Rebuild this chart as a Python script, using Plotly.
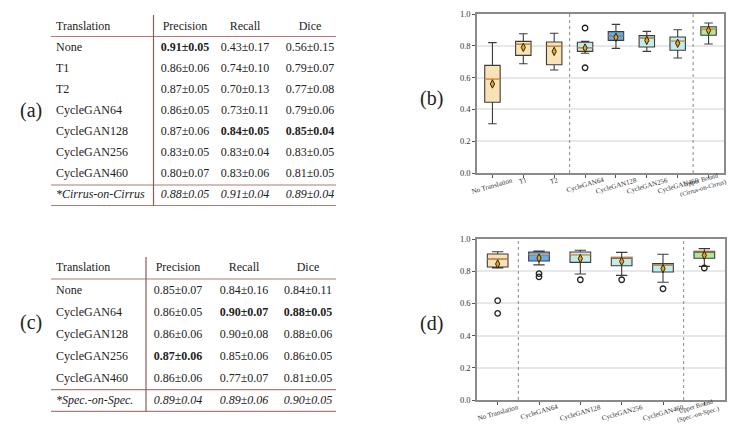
import plotly.graph_objects as go

W, H = 735, 425

# ---- table (a): Cirrus ----
a_header = ["Translation", "Precision", "Recall", "Dice"]
a_rows = ["None", "T1", "T2", "CycleGAN64", "CycleGAN128", "CycleGAN256", "CycleGAN460", "*Cirrus-on-Cirrus"]
a_precision = ["0.91±0.05", "0.86±0.06", "0.87±0.05", "0.86±0.05", "0.87±0.06", "0.83±0.05", "0.80±0.07", "0.88±0.05"]
a_recall = ["0.43±0.17", "0.74±0.10", "0.70±0.13", "0.73±0.11", "0.84±0.05", "0.83±0.04", "0.83±0.06", "0.91±0.04"]
a_dice = ["0.56±0.15", "0.79±0.07", "0.77±0.08", "0.79±0.06", "0.85±0.04", "0.83±0.05", "0.81±0.05", "0.89±0.04"]
a_best = {"Precision": 0, "Recall": 4, "Dice": 4}

# ---- table (c): Spectralis ----
c_header = ["Translation", "Precision", "Recall", "Dice"]
c_rows = ["None", "CycleGAN64", "CycleGAN128", "CycleGAN256", "CycleGAN460", "*Spec.-on-Spec."]
c_precision = ["0.85±0.07", "0.86±0.05", "0.86±0.06", "0.87±0.06", "0.86±0.06", "0.89±0.04"]
c_recall = ["0.84±0.16", "0.90±0.07", "0.90±0.08", "0.85±0.06", "0.77±0.07", "0.89±0.06"]
c_dice = ["0.84±0.11", "0.88±0.05", "0.88±0.06", "0.86±0.05", "0.81±0.05", "0.90±0.05"]
c_best = {"Precision": 3, "Recall": 1, "Dice": 1}

# ---- box plot (b) ----
b_cats = ["No Translation", "T1", "T2", "CycleGAN64", "CycleGAN128", "CycleGAN256",
          "CycleGAN460", "Upper Bound<br>(Cirrus-on-Cirrus)"]
b_low = [0.31, 0.687, 0.648, 0.753, 0.784, 0.765, 0.723, 0.811]
b_q1 = [0.445, 0.740, 0.681, 0.765, 0.834, 0.792, 0.772, 0.866]
b_med = [0.589, 0.810, 0.797, 0.788, 0.862, 0.849, 0.828, 0.908]
b_q3 = [0.677, 0.828, 0.824, 0.822, 0.889, 0.864, 0.855, 0.920]
b_high = [0.820, 0.876, 0.879, 0.828, 0.935, 0.891, 0.901, 0.943]
b_mean = [0.560, 0.790, 0.765, 0.786, 0.853, 0.834, 0.816, 0.897]
b_out_idx = [3, 3]
b_out_val = [0.912, 0.662]
b_kind = ["base", "base", "base", "gan", "best", "gan", "gan", "upper"]

# ---- box plot (d) ----
d_cats = ["No Translation", "CycleGAN64", "CycleGAN128", "CycleGAN256", "CycleGAN460",
          "Upper Bound<br>(Spec.-on-Spec.)"]
d_low = [0.820, 0.839, 0.783, 0.774, 0.731, 0.830]
d_q1 = [0.826, 0.863, 0.855, 0.834, 0.795, 0.880]
d_med = [0.876, 0.903, 0.903, 0.883, 0.837, 0.919]
d_q3 = [0.907, 0.919, 0.919, 0.886, 0.847, 0.923]
d_high = [0.921, 0.925, 0.930, 0.917, 0.905, 0.940]
d_mean = [0.845, 0.882, 0.878, 0.861, 0.816, 0.899]
d_out_idx = [0, 0, 1, 1, 2, 3, 4, 5]
d_out_val = [0.617, 0.538, 0.785, 0.765, 0.747, 0.747, 0.691, 0.820]
d_kind = ["base", "best", "gan", "gan", "gan", "upper"]

FILL = {"base": "#f9e2b5", "gan": "#c2ecec", "best": "#5fb0f2", "upper": "#aee79c"}
SERIF = "Liberation Serif, Times New Roman, serif"
RULE = "#b07a7a"
TXT = "#222"

fig = go.Figure()


def px_x(p):
    return p / W


def px_y(p):
    return 1 - p / H


def add_boxes(xa, ya, cats, low, q1, med, q3, high, mean, kind, out_idx, out_val):
    for i in range(len(med)):
        fig.add_trace(go.Box(
            x=[i], q1=[q1[i]], median=[med[i]], q3=[q3[i]],
            lowerfence=[low[i]], upperfence=[high[i]],
            width=0.5, whiskerwidth=0.55, fillcolor=FILL[kind[i]],
            line=dict(color="#3c3c3c", width=1.1), boxpoints=False,
            xaxis=xa, yaxis=ya, showlegend=False, hoverinfo="skip"))
        # orange median line
        fig.add_trace(go.Box(
            x=[i], q1=[med[i]], median=[med[i]], q3=[med[i]],
            lowerfence=[med[i]], upperfence=[med[i]],
            width=0.5, whiskerwidth=0, fillcolor="rgba(0,0,0,0)",
            line=dict(color="#f0953a", width=1.1), boxpoints=False,
            xaxis=xa, yaxis=ya, showlegend=False, hoverinfo="skip"))
    fig.add_trace(go.Scatter(
        x=list(range(len(mean))), y=mean, mode="markers", xaxis=xa, yaxis=ya,
        marker=dict(symbol="diamond-tall", size=6, color="#f5a400",
                    line=dict(color="#222", width=1)),
        showlegend=False, hoverinfo="skip"))
    fig.add_trace(go.Scatter(
        x=out_idx, y=out_val, mode="markers", xaxis=xa, yaxis=ya,
        marker=dict(symbol="circle-open", size=5.5, color="#222", line=dict(width=1.3)),
        showlegend=False, hoverinfo="skip"))
    # rotated category labels, centred under their ticks
    for i, c in enumerate(cats):
        two_lines = "<br>" in c
        fig.add_annotation(text=c, x=i, y=0, xref=xa, yref=ya + " domain",
                           xanchor="center", yanchor="top",
                           yshift=5 if two_lines else -2, xshift=-7 if two_lines else 0,
                           textangle=-16, showarrow=False, align="center", borderpad=0,
                           font=dict(family=SERIF, size=6.5 if two_lines else 7, color="#333"))


add_boxes("x", "y", b_cats, b_low, b_q1, b_med, b_q3, b_high, b_mean, b_kind, b_out_idx, b_out_val)
add_boxes("x2", "y2", d_cats, d_low, d_q1, d_med, d_q3, d_high, d_mean, d_kind, d_out_idx, d_out_val)


def add_text(xs, ys, texts, pos):
    fig.add_trace(go.Scatter(
        x=xs, y=ys, text=texts, mode="text", textposition=pos,
        textfont=dict(family=SERIF, size=12, color=TXT),
        xaxis="x3", yaxis="y3", showlegend=False, hoverinfo="skip"))


def add_table(header, rows, cols, best, left_x, centers, header_y, row0_y, step):
    ys = [row0_y + i * step for i in range(len(rows))]
    last = len(rows) - 1
    add_text([left_x], [header_y], header[:1], "middle right")
    add_text(centers, [header_y] * 3, header[1:], "middle center")
    labels = [r if i < last else "<i>%s</i>" % r for i, r in enumerate(rows)]
    add_text([left_x] * len(rows), ys, labels, "middle right")
    for name, vals, cx in zip(header[1:], cols, centers):
        txt = []
        for i, v in enumerate(vals):
            if i == last:
                txt.append("<i>%s</i>" % v)
            elif i == best[name]:
                txt.append("<b>%s</b>" % v)
            else:
                txt.append(v)
        add_text([cx] * len(vals), ys, txt, "middle center")


# table layout (pixel space of the overlay axis)
add_table(a_header, a_rows, [a_precision, a_recall, a_dice], a_best,
          48, [177, 237, 302], 18.5, 39.5, 21)
add_table(c_header, c_rows, [c_precision, c_recall, c_dice], c_best,
          48, [170, 236, 300], 260, 282.7, 22)

shapes = []
for y in (28.5, 177, 197.5):
    shapes.append(dict(type="line", xref="x3", yref="y3", x0=43, x1=328, y0=y, y1=y,
                       line=dict(color=RULE, width=1.2)))
shapes.append(dict(type="line", xref="x3", yref="y3", x0=145.5, x1=145.5, y0=7, y1=197.5,
                   line=dict(color="#8c5a5a", width=1.2)))
for y in (271, 381.7, 403.3):
    shapes.append(dict(type="line", xref="x3", yref="y3", x0=43, x1=328, y0=y, y1=y,
                       line=dict(color=RULE, width=1.2)))
shapes.append(dict(type="line", xref="x3", yref="y3", x0=138, x1=138, y0=249, y1=403.3,
                   line=dict(color="#8c5a5a", width=1.2)))
# dotted group separators
for xa, xv in (("x", 2.5), ("x", 6.5), ("x2", 0.5), ("x2", 4.5)):
    ya = "y" if xa == "x" else "y2"
    shapes.append(dict(type="line", xref=xa, yref=ya + " domain", x0=xv, x1=xv, y0=0, y1=1,
                       line=dict(color="#8a8a8a", width=1, dash="dot")))

axis_common = dict(showline=True, mirror=True, linecolor="#8a8a8a", linewidth=1.5,
                   ticks="outside", ticklen=3, tickcolor="#555",
                   tickfont=dict(family=SERIF, size=8.5, color="#333"), zeroline=False)

fig.update_layout(
    width=W, height=H, margin=dict(l=0, r=0, t=0, b=0, autoexpand=False),
    paper_bgcolor="white", plot_bgcolor="rgba(0,0,0,0)",
    showlegend=False, shapes=shapes,
    xaxis=dict(domain=[px_x(469), px_x(716)], range=[-0.5, 7.5], tickvals=list(range(len(b_cats))),
               showticklabels=False, showgrid=False, anchor="y", **axis_common),
    yaxis=dict(domain=[px_y(165), px_y(6)], range=[0, 1], tickvals=[0, 0.2, 0.4, 0.6, 0.8, 1.0],
               tickformat=".1f", showgrid=True, gridcolor="#e8e8e8", gridwidth=1.5,
               anchor="x", **axis_common),
    xaxis2=dict(domain=[px_x(469), px_x(717)], range=[-0.5, 5.5], tickvals=list(range(len(d_cats))),
                showticklabels=False, showgrid=False, anchor="y2", **axis_common),
    yaxis2=dict(domain=[px_y(392), px_y(231)], range=[0, 1], tickvals=[0, 0.2, 0.4, 0.6, 0.8, 1.0],
                tickformat=".1f", showgrid=True, gridcolor="#e8e8e8", gridwidth=1.5,
                anchor="x2", **axis_common),
    xaxis3=dict(domain=[0, 1], range=[0, W], visible=False, anchor="y3"),
    yaxis3=dict(domain=[0, 1], range=[H, 0], visible=False, anchor="x3"),
)

for lab, x, y in (("(a)", 23, 103), ("(b)", 423, 90), ("(c)", 23, 314), ("(d)", 423, 315)):
    fig.add_annotation(text=lab, x=px_x(x), y=px_y(y), xref="paper", yref="paper",
                       xanchor="center", yanchor="middle",
                       showarrow=False, font=dict(family=SERIF, size=20, color=TXT))

fig.write_html("out.html")
